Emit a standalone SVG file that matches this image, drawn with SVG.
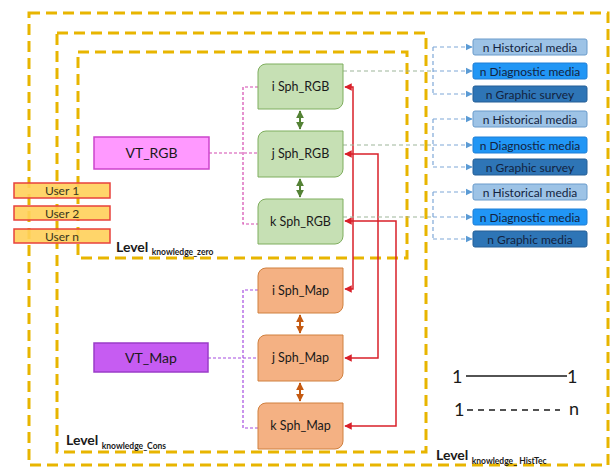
<svg xmlns="http://www.w3.org/2000/svg" width="613" height="467" viewBox="0 0 613 467">
<defs>
<marker id="ar" viewBox="0 0 10 10" refX="9" refY="5" markerWidth="5" markerHeight="5" orient="auto-start-reverse"><path d="M0,0 L10,5 L0,10 Z" fill="#D9202A"/></marker>
<marker id="ab" viewBox="0 0 10 10" refX="9" refY="5" markerWidth="6" markerHeight="6" orient="auto"><path d="M0,0 L10,5 L0,10 Z" fill="#5B9BD5"/></marker>
<marker id="ag" viewBox="0 0 10 10" refX="9" refY="5" markerWidth="4" markerHeight="4" orient="auto-start-reverse"><path d="M0,0 L10,5 L0,10 Z" fill="#548235"/></marker>
<marker id="ao" viewBox="0 0 10 10" refX="9" refY="5" markerWidth="4" markerHeight="4" orient="auto-start-reverse"><path d="M0,0 L10,5 L0,10 Z" fill="#C55A11"/></marker>
</defs>
<style>
text{font-family:Lato,"Liberation Sans",sans-serif;fill:#1a1a1a}
.lvl{fill:none;stroke:#E8B500;stroke-width:3;stroke-dasharray:11 6}
.user{fill:#FFD05A;stroke:#E8413C;stroke-width:1.5;fill-opacity:0.9}
.ut{font-size:12px;text-anchor:middle;fill:#3a3520}
.sg{fill:#C6E0B4;stroke:#7FAE5E;stroke-width:1}
.so{fill:#F4B183;stroke:#D0803E;stroke-width:1}
.st{font-size:12.5px;text-anchor:middle}
.mt{font-size:12px;text-anchor:middle;fill:#13233f}
.h{fill:#9DC3E6;stroke:#6A9BCB}
.d{fill:#2196F5;stroke:#1F7ED6}
.g{fill:#2E75B6;stroke:#245F96}
.red{fill:none;stroke:#D9202A;stroke-width:1.5;marker-start:url(#ar);marker-end:url(#ar)}
.pk{fill:none;stroke:#D44AB0;stroke-width:1.2;stroke-dasharray:3 2}
.pu{fill:none;stroke:#A64CE0;stroke-width:1.2;stroke-dasharray:3 2}
.bl{fill:none;stroke:#7FA8D8;stroke-width:1.2;stroke-dasharray:4 3}
.ba{marker-end:url(#ab)}
.gr{fill:none;stroke:#9DB59A;stroke-width:1.2;stroke-dasharray:4 3}
.dg{fill:none;stroke:#548235;stroke-width:2;marker-start:url(#ag);marker-end:url(#ag)}
.do{fill:none;stroke:#C55A11;stroke-width:2;marker-start:url(#ao);marker-end:url(#ao)}
.lb{font-weight:bold;font-size:14px}
.sb{font-weight:bold;font-size:8.5px}
</style>
<rect width="613" height="467" fill="#ffffff"/>
<g id="levels">
<rect class="lvl" x="29" y="13" width="579" height="452"/>
<rect class="lvl" x="57" y="33" width="369" height="419"/>
<rect class="lvl" x="78" y="52" width="329" height="206"/>
</g>
<g id="connectors">
<path class="pk" d="M209,153 H258 M258,87 H243 V224 H258"/>
<path class="pu" d="M208,358 H258 M258,290 H243 V428 H258"/>
<path class="dg" d="M300,111 V129"/>
<path class="dg" d="M300,179 V197"/>
<path class="do" d="M300,315 V333"/>
<path class="do" d="M300,383 V401"/>
<path class="red" d="M345,87 H353 V289 H345"/>
<path class="red" d="M345,154 H378 V358 H345"/>
<path class="red" d="M345,221 H396 V426 H345"/>
<path class="gr" d="M343,71 H433 M343,145 H433 M343,217 H433"/>
<path class="bl" d="M433,47 V94 M433,119 V167 M433,192 V239"/>
<path class="bl ba" d="M433,47 H472"/>
<path class="bl ba" d="M433,71 H472"/>
<path class="bl ba" d="M433,94 H472"/>
<path class="bl ba" d="M433,119 H472"/>
<path class="bl ba" d="M433,145 H472"/>
<path class="bl ba" d="M433,167 H472"/>
<path class="bl ba" d="M433,192 H472"/>
<path class="bl ba" d="M433,217 H472"/>
<path class="bl ba" d="M433,239 H472"/>
</g>
<g id="user1"><rect class="user" x="14" y="183" width="96" height="15"/><text class="ut" x="62" y="195">User 1</text></g>
<g id="user2"><rect class="user" x="14" y="206" width="96" height="14"/><text class="ut" x="62" y="217.5">User 2</text></g>
<g id="usern"><rect class="user" x="14" y="229" width="96" height="14"/><text class="ut" x="62" y="240.5">User n</text></g>
<g id="vt_rgb"><rect x="94" y="137" width="115" height="32" fill="#FF99FF" stroke="#CC44CC" stroke-width="1.5"/><text x="151.5" y="158" font-size="14" text-anchor="middle">VT_RGB</text></g>
<g id="vt_map"><rect x="94" y="343" width="114" height="29" fill="#C65CF2" stroke="#9A3CC8" stroke-width="1.5"/><text x="151" y="362.5" font-size="14" text-anchor="middle">VT_Map</text></g>
<g id="i_sph_rgb"><path class="sg" d="M266,64 H343 V101 A8,8 0 0 1 335,109 H258 V72 A8,8 0 0 1 266,64 Z"/><text class="st" x="300.5" y="91">i Sph_RGB</text></g>
<g id="j_sph_rgb"><path class="sg" d="M266,131 H343 V169 A8,8 0 0 1 335,177 H258 V139 A8,8 0 0 1 266,131 Z"/><text class="st" x="300.5" y="158">j Sph_RGB</text></g>
<g id="k_sph_rgb"><path class="sg" d="M266,199 H343 V236 A8,8 0 0 1 335,244 H258 V207 A8,8 0 0 1 266,199 Z"/><text class="st" x="300.5" y="226">k Sph_RGB</text></g>
<g id="i_sph_map"><path class="so" d="M266,268 H343 V305 A8,8 0 0 1 335,313 H258 V276 A8,8 0 0 1 266,268 Z"/><text class="st" x="300.5" y="295">i Sph_Map</text></g>
<g id="j_sph_map"><path class="so" d="M266,335 H343 V373 A8,8 0 0 1 335,381 H258 V343 A8,8 0 0 1 266,335 Z"/><text class="st" x="300.5" y="362">j Sph_Map</text></g>
<g id="k_sph_map"><path class="so" d="M266,403 H343 V441 A8,8 0 0 1 335,449 H258 V411 A8,8 0 0 1 266,403 Z"/><text class="st" x="300.5" y="430">k Sph_Map</text></g>
<g id="m1"><rect class="h" x="473" y="39" width="114" height="16" rx="2"/><text class="mt" x="530" y="51.5">n Historical media</text></g>
<g id="m2"><rect class="d" x="473" y="63" width="114" height="16" rx="2"/><text class="mt" x="530" y="75.5">n Diagnostic  media</text></g>
<g id="m3"><rect class="g" x="473" y="86" width="114" height="16" rx="2"/><text class="mt" x="530" y="98.5">n Graphic survey</text></g>
<g id="m4"><rect class="h" x="473" y="111" width="114" height="16" rx="2"/><text class="mt" x="530" y="123.5">n Historical media</text></g>
<g id="m5"><rect class="d" x="473" y="137" width="114" height="16" rx="2"/><text class="mt" x="530" y="149.5">n Diagnostic  media</text></g>
<g id="m6"><rect class="g" x="473" y="159" width="114" height="16" rx="2"/><text class="mt" x="530" y="171.5">n Graphic survey</text></g>
<g id="m7"><rect class="h" x="473" y="184" width="114" height="16" rx="2"/><text class="mt" x="530" y="196.5">n Historical media</text></g>
<g id="m8"><rect class="d" x="473" y="209" width="114" height="16" rx="2"/><text class="mt" x="530" y="221.5">n Diagnostic  media</text></g>
<g id="m9"><rect class="g" x="473" y="231" width="114" height="16" rx="2"/><text class="mt" x="530" y="243.5">n Graphic media</text></g>
<g id="labels">
<text x="116" y="252"><tspan class="lb">Level </tspan><tspan class="sb" dy="3">knowledge_zero</tspan></text>
<text x="66" y="445"><tspan class="lb">Level </tspan><tspan class="sb" dy="4">knowledge_Cons</tspan></text>
<text x="436" y="460"><tspan class="lb">Level </tspan><tspan class="sb" dy="4">knowledge_ HistTec</tspan></text>
</g>
<g id="legend">
<text x="452" y="383" font-size="18">1</text>
<line x1="466" y1="376" x2="567" y2="376" stroke="#1a1a1a" stroke-width="1.5"/>
<text x="567" y="383" font-size="18">1</text>
<text x="454" y="416" font-size="18">1</text>
<line x1="467" y1="410" x2="560" y2="410" stroke="#1a1a1a" stroke-width="1.5" stroke-dasharray="6 5"/>
<text x="569" y="415" font-size="18">n</text>
</g>
</svg>
